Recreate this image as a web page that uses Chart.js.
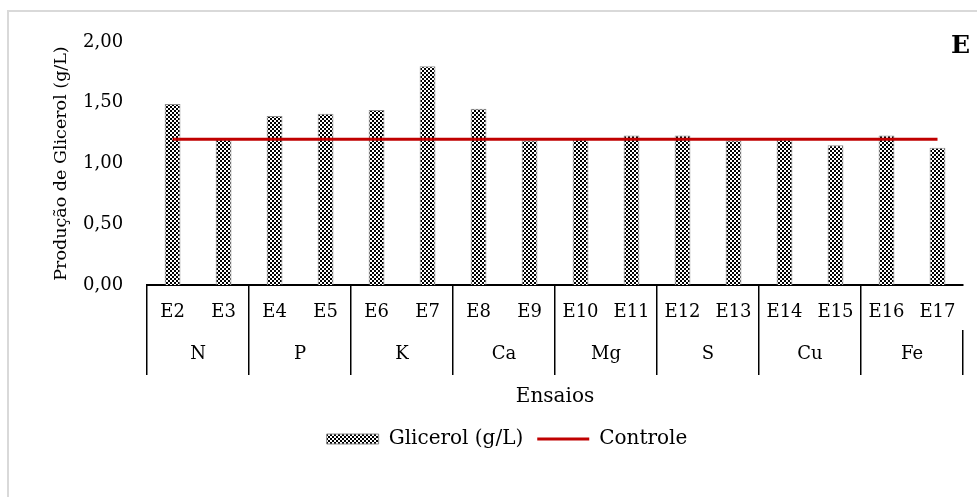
<!DOCTYPE html>
<html lang="pt">
<head>
    <meta charset="UTF-8">
    <title>Glicerol</title>
    <script src="https://cdn.jsdelivr.net/npm/chart.js@4.4.0/dist/chart.umd.min.js"></script>
    <style>
        body{
            margin: 0;
            background: #fff;
        }
        #box{
            width: 977px;
            height: 497px;
        }
    </style>
</head>
<body>
    <div id="box">
        <canvas id="canvas" width="977" height="497"></canvas>
    </div>

<script type="text/javascript">
    // dados
    var ensaios = ['E2','E3','E4','E5','E6','E7','E8','E9','E10','E11','E12','E13','E14','E15','E16','E17'];
    var grupos = ['N','P','K','Ca','Mg','S','Cu','Fe'];
    var glicerol = [1.49, 1.20, 1.39, 1.41, 1.44, 1.80, 1.45, 1.19, 1.20, 1.23, 1.23, 1.19, 1.20, 1.15, 1.23, 1.13];
    var controle = [1.20, 1.20, 1.20, 1.20, 1.20, 1.20, 1.20, 1.20, 1.20, 1.20, 1.20, 1.20, 1.20, 1.20, 1.20, 1.20];
    var yTicks = [0, 0.5, 1, 1.5, 2];

    var serif = '"DejaVu Serif", serif';

    // padrao xadrez das barras
    function xadrez(){
        var c = document.createElement('canvas');
        c.width = 4; c.height = 4;
        var g = c.getContext('2d');
        g.fillStyle = '#fff';
        g.fillRect(0,0,4,4);
        g.fillStyle = '#000';
        g.fillRect(0,0,2,2);
        g.fillRect(2,2,2,2);
        return g.createPattern(c, 'repeat');
    }
    var pattern = xadrez();

    var extras = {
        id: 'extras',
        beforeDraw: function(chart){
            var ctx = chart.ctx;
            ctx.save();
            ctx.strokeStyle = '#d9d9d9';
            ctx.lineWidth = 2;
            ctx.strokeRect(8, 11, 1100, 700);
            ctx.restore();
        },
        afterDraw: function(chart){
            var ctx = chart.ctx;
            ctx.save();
            ctx.fillStyle = '#000';
            ctx.font = 'bold 25px ' + serif;
            ctx.textAlign = 'right';
            ctx.textBaseline = 'middle';
            ctx.fillText('E', chart.width - 7, 46);
            ctx.restore();
        }
    };

    var ctx = document.getElementById('canvas').getContext('2d');
    var myChart = new Chart(ctx, {
        data: {
            labels: ensaios,
            datasets: [{
                type: 'line',
                label: 'Controle',
                data: controle,
                borderColor: '#c00000',
                backgroundColor: '#c00000',
                borderWidth: 3,
                pointRadius: 0,
                pointStyle: 'line',
                order: 0
            }, {
                type: 'bar',
                label: 'Glicerol (g/L)',
                data: glicerol,
                backgroundColor: pattern,
                borderColor: '#8c8c8c',
                borderWidth: 1,
                pointStyle: 'rect',
                barPercentage: 0.31,
                categoryPercentage: 1,
                order: 1
            }]
        },
        options: {
            responsive: false,
            animation: false,
            layout: { padding: { left: 51, right: 14, top: 42, bottom: 38 } },
            plugins: {
                legend: {
                    position: 'bottom',
                    reverse: true,
                    labels: {
                        usePointStyle: true,
                        pointStyleWidth: 52,
                        boxHeight: 10,
                        padding: 14,
                        color: '#000',
                        font: { family: serif, size: 20 }
                    }
                },
                tooltip: { enabled: false }
            },
            scales: {
                y: {
                    min: 0,
                    max: 2,
                    afterBuildTicks: function(axis){
                        axis.ticks = yTicks.map(function(v){ return { value: v }; });
                    },
                    grid: { display: false },
                    border: { display: false },
                    ticks: {
                        color: '#000',
                        font: { family: serif, size: 18 },
                        padding: 16,
                        callback: function(v){ return v.toFixed(2).replace('.', ','); }
                    },
                    title: {
                        display: true,
                        text: 'Produção de Glicerol (g/L)',
                        color: '#000',
                        font: { family: serif, size: 17.5 },
                        padding: { top: 0, bottom: -5 }
                    }
                },
                x: {
                    offset: true,
                    grid: {
                        offset: true,
                        drawOnChartArea: false,
                        tickLength: 45,
                        lineWidth: 1.5,
                        color: function(c){ return c.index % 2 === 0 ? '#000' : 'rgba(0,0,0,0)'; }
                    },
                    border: { display: true, color: '#000', width: 2 },
                    ticks: {
                        color: '#000',
                        autoSkip: false,
                        maxRotation: 0,
                        padding: -28,
                        font: { family: serif, size: 18 }
                    },
                    afterFit: function(s){ s.height = 45; }
                },
                x2: {
                    type: 'category',
                    labels: grupos,
                    position: 'bottom',
                    offset: true,
                    grid: {
                        offset: true,
                        drawOnChartArea: false,
                        tickLength: 45,
                        lineWidth: 1.5,
                        color: '#000'
                    },
                    border: { display: false },
                    ticks: {
                        color: '#000',
                        maxRotation: 0,
                        padding: -31,
                        font: { family: serif, size: 18 }
                    },
                    title: {
                        display: true,
                        text: 'Ensaios',
                        color: '#000',
                        font: { family: serif, size: 20 },
                        padding: { top: 6, bottom: 6 }
                    },
                    afterFit: function(s){ s.height = 85; }
                }
            }
        },
        plugins: [extras]
    });
</script>
</body>
</html>
